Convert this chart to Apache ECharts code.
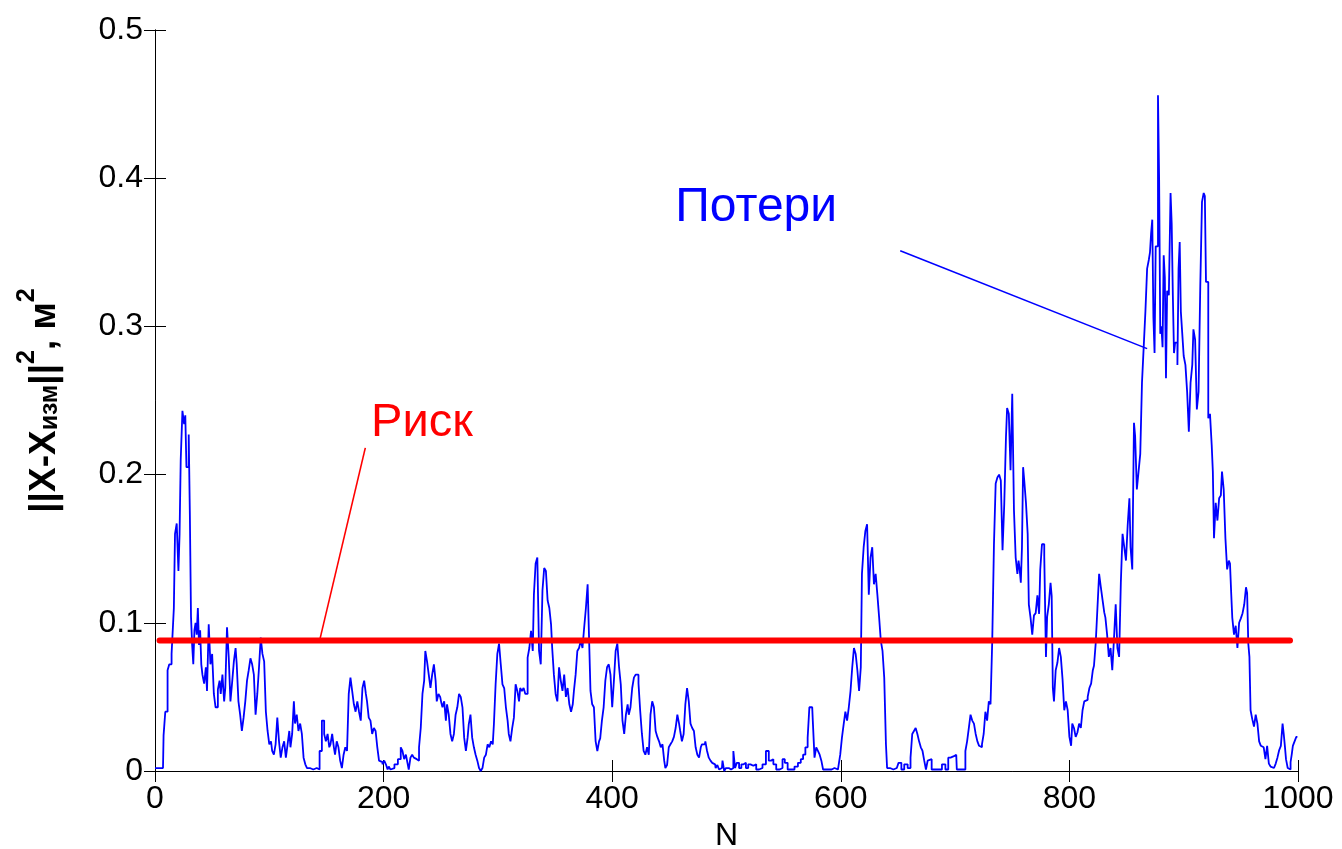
<!DOCTYPE html>
<html>
<head>
<meta charset="utf-8">
<script src="https://cdn.jsdelivr.net/npm/echarts@6/dist/echarts.min.js"></script>
<style>
html,body{margin:0;padding:0;background:#fff;overflow:hidden;}
#chart{width:1342px;height:849px;}
</style>
</head>
<body>
<div id="chart"></div>
<script>
// ---- axis ticks ----
const xTicks = [0, 200, 400, 600, 800, 1000];
const yTicks = [0, 0.1, 0.2, 0.3, 0.4, 0.5];

// ---- risk level (red line) ----
const riskLevel = 0.088;
const riskRange = [4, 993];

// ---- losses ||X - X_izm||^2 vs N ----
const lossSeg1 = [
[0,0.002],[3,0.002],[7,0.002],[8,0.024],[10,0.040],[12,0.068],[13,0.072],[16,0.079],[17,0.110],[18,0.160],
[20,0.167],[21,0.135],[22,0.160],[23,0.210],[25,0.243],[26,0.234],[27,0.240],[28,0.205],[29,0.205],[30,0.227],
[31,0.173],[32,0.104],[33,0.085],[34,0.072],[35,0.095],[36,0.100],[37,0.092],[38,0.110],[39,0.085],[40,0.095],
[41,0.072],[42,0.065],[44,0.059],[45,0.070],[46,0.054],[48,0.099],[49,0.072],[51,0.079],[52,0.052],[54,0.043],
[56,0.055],[57,0.061],[58,0.052],[60,0.065],[61,0.047],[62,0.056],[64,0.097],[65,0.077],[67,0.047],[68,0.060],
[70,0.074],[71,0.083],[72,0.072],[74,0.047],[75,0.038],[77,0.027],[78,0.036],[80,0.047],[81,0.061],[83,0.068],
[84,0.076],[86,0.072],[87,0.065],[89,0.038],[90,0.052],[92,0.070],[93,0.090],[95,0.079],[96,0.074],[98,0.040],
[99,0.027],[101,0.018],[102,0.020],[103,0.0135],[105,0.011],[106,0.018],[108,0.036],[109,0.020],[111,0.009],[112,0.016],
[114,0.020],[115,0.009],[117,0.018],[118,0.027],[119,0.016],[121,0.025],[122,0.047],[123,0.032],[125,0.038],[126,0.027],
[128,0.032],[129,0.025],[131,0.009],[132,0.0045],[134,0.002],[137,0.001],[140,0.002],[143,0.001],[145,0.0135],[147,0.034],
[149,0.025],[150,0.020],[152,0.025],[153,0.016],[154,0.018],[156,0.025],[157,0.016],[158,0.011],[160,0.020],[161,0.016],
[163,0.007],[164,0.002],[166,0.011],[167,0.016],[169,0.0135],[170,0.052],[172,0.063],[173,0.054],[175,0.045],[176,0.040],
[178,0.047],[179,0.040],[181,0.034],[182,0.056],[184,0.061],[185,0.052],[186,0.047],[188,0.036],[189,0.034],[191,0.025],
[192,0.029],[194,0.027],[195,0.016],[197,0.007],[198,0.006],[200,0.0045],[201,0.007],[203,0.0045],[204,0.001],[205,0.003],
[207,0.001],[208,0.002],[211,0.0045],[214,0.008],[216,0.016],[217,0.0135],[219,0.008],[220,0.011],[221,0.007],[223,0.001],
[224,0.009],[226,0.011],[227,0.009],[229,0.008],[230,0.007],[232,0.016],[233,0.029],[235,0.052],[236,0.061],[237,0.081],
[239,0.074],[240,0.065],[242,0.056],[243,0.065],[245,0.072],[246,0.061],[247,0.047],[249,0.052]
];
const lossSeg2 = [
[250,0.050],[251,0.046],[252,0.043],[254,0.047],[255,0.034],[256,0.045],[258,0.038],[259,0.025],[261,0.020],[262,0.025],
[264,0.038],[265,0.043],[267,0.052],[268,0.050],[270,0.043],[271,0.0225],[273,0.0135],[274,0.0225],[275,0.0315],[277,0.038],
[278,0.0225],[280,0.016],[281,0.011],[283,0.007],[284,0.002],[286,0.000],[287,0.002],[289,0.009],[290,0.011],[292,0.018],
[293,0.016],[295,0.020],[296,0.018],[297,0.0315],[299,0.0585],[300,0.079],[302,0.086],[303,0.072],[305,0.0585],[306,0.056],
[308,0.043],[309,0.034],[310,0.025],[312,0.020],[313,0.029],[315,0.036],[316,0.0585],[318,0.054],[319,0.047],[320,0.056],
[322,0.054],[323,0.056],[325,0.052],[327,0.0765],[328,0.083],[330,0.0945],[331,0.081],[332,0.119],[334,0.140],[335,0.144],
[337,0.081],[338,0.072],[340,0.122],[341,0.137],[343,0.135],[344,0.115],[346,0.110],[347,0.099],[348,0.083],[350,0.065],
[351,0.052],[353,0.047],[354,0.070],[356,0.061],[357,0.054],[359,0.065],[360,0.050],[362,0.056],[363,0.045],[365,0.040],
[366,0.045],[367,0.054],[369,0.065],[370,0.081],[372,0.083],[373,0.088],[375,0.083],[376,0.097],[378,0.110],[379,0.126],
[380,0.097],[382,0.054],[383,0.045],[385,0.043],[386,0.020],[388,0.0135],[389,0.020],[390,0.022],[392,0.034],[393,0.043],
[395,0.061],[396,0.070],[398,0.072],[399,0.065],[401,0.043],[402,0.061],[404,0.081],[405,0.086],[407,0.070],[408,0.0585],
[410,0.034],[411,0.025],[413,0.038],[414,0.045],[415,0.038],[417,0.043],[418,0.056],[420,0.063],[421,0.065],[422,0.065],
[424,0.059],[425,0.0405],[427,0.025],[428,0.0135],[430,0.011],[431,0.016],[433,0.011],[434,0.038],[436,0.047],[437,0.043],
[439,0.027],[440,0.023],[442,0.020],[443,0.016],[445,0.018],[446,0.007],[447,0.002],[449,0.004],[450,0.016],[452,0.018],
[453,0.020],[455,0.023],[456,0.029],[458,0.038],[459,0.032],[460,0.027],[462,0.020],[463,0.025],[465,0.045],[466,0.056],
[468,0.047],[469,0.032],[471,0.029],[472,0.027],[474,0.016],[475,0.011],[477,0.009],[478,0.016],[479,0.018],[481,0.018],
[482,0.020],[484,0.0135],[485,0.009],[487,0.007],[488,0.0055],[490,0.0045],[491,0.002],[493,0.004],[494,0.001],[496,0.002],
[497,0.007],[499,0.000]
];
const lossSeg3 = [
[500,0.002],[501,0.002],[503,0.001],[505,0.002],[507,0.0135],[508,0.002],[510,0.0055],[512,0.002],[514,0.0045],[516,0.0055],
[518,0.002],[520,0.0045],[522,0.0035],[525,0.0045],[527,0.001],[530,0.002],[533,0.0045],[536,0.0135],[538,0.007],[540,0.008],
[542,0.0045],[545,0.001],[548,0.002],[550,0.008],[552,0.0055],[555,0.001],[558,0.001],[561,0.003],[564,0.0055],[566,0.008],
[568,0.011],[570,0.016],[572,0.0225],[573,0.043],[575,0.043],[576,0.034],[578,0.009],[579,0.016],[581,0.0135],[582,0.011],
[584,0.007],[585,0.001],[588,0.001],[591,0.001],[593,0.002],[596,0.001],[599,0.001],[600,0.011],[602,0.0225],[603,0.0315],
[605,0.040],[606,0.034],[608,0.043],[609,0.054],[611,0.070],[612,0.083],[614,0.079],[615,0.068],[617,0.054],[618,0.070],
[619,0.133],[621,0.151],[622,0.162],[624,0.1665],[625,0.119],[627,0.144],[628,0.151],[630,0.126],[631,0.133],[633,0.119],
[634,0.104],[636,0.088],[637,0.081],[639,0.063],[640,0.018],[641,0.002],[643,0.002],[646,0.001],[649,0.002],[652,0.0055],
[654,0.001],[657,0.0045],[660,0.002],[662,0.009],[663,0.025],[665,0.027],[666,0.029],[668,0.025],[669,0.020],[671,0.016],
[672,0.0135],[674,0.007],[675,0.001],[677,0.007],[678,0.008],[681,0.001],[684,0.001],[687,0.001],[690,0.0045],[693,0.001],
[695,0.009],[697,0.008],[698,0.010],[700,0.011],[701,0.011],[702,0.001],[705,0.001],[708,0.001],[710,0.0135],[711,0.020],
[713,0.029],[714,0.038],[716,0.034],[717,0.032],[719,0.025],[720,0.020],[722,0.017],[723,0.016],[724,0.018],[726,0.025],
[727,0.040],[729,0.034],[730,0.047],[732,0.045],[733,0.088],[735,0.153],[736,0.194],[738,0.198],[739,0.200],[741,0.196],
[742,0.149],[744,0.180],[745,0.225],[746,0.245],[748,0.241],[749,0.203],[751,0.2545],[752,0.176],[754,0.144],[755,0.133]
];
const lossSeg4 = [
[756,0.142],[757,0.136],[758,0.127],[759,0.151],[760,0.205],[761,0.196],[763,0.181],[764,0.160],[765,0.1125],[767,0.1035],
[768,0.092],[770,0.105],[771,0.1065],[773,0.1185],[774,0.106],[775,0.136],[777,0.153],[779,0.145],[780,0.077],[781,0.104],
[783,0.1125],[784,0.127],[785,0.118],[786,0.056],[787,0.047],[789,0.068],[790,0.073],[792,0.083],[793,0.077],[795,0.062],
[796,0.041],[798,0.047],[799,0.041],[801,0.023],[802,0.017],[803,0.032],[805,0.029],[806,0.023],[808,0.026],[809,0.032],
[811,0.029],[812,0.041],[814,0.047],[815,0.048],[817,0.050],[818,0.056],[820,0.059],[821,0.068],[822,0.071],[824,0.086],
[825,0.1095],[827,0.133],[828,0.124],[830,0.1155],[831,0.107],[832,0.1035],[834,0.092],[835,0.077],[837,0.083],[838,0.068],
[840,0.089],[841,0.1125],[843,0.083],[844,0.077],[846,0.127],[847,0.160],[849,0.151],[850,0.142],[852,0.166],[853,0.184],
[854,0.151],[856,0.136],[857,0.235],[858,0.226],[860,0.190],[861,0.202],[863,0.214],[864,0.262],[866,0.286],[867,0.310],
[869,0.339],[870,0.345],[871,0.350],[872,0.363],[873,0.372],[874,0.306],[875,0.282],[876,0.354],[877,0.354],[878,0.456],
[879,0.399],[880,0.295],[881,0.300],[882,0.286],[883,0.348],[884,0.333],[885,0.265],[886,0.324],[888,0.321],[889,0.390],
[890,0.369],[891,0.321],[892,0.282],[893,0.289],[894,0.289],[895,0.274],[896,0.339],[897,0.357],[898,0.310],[899,0.298],
[901,0.280],[902,0.274],[904,0.256],[905,0.229],[907,0.262],[908,0.274],[909,0.298],[911,0.291],[912,0.244],[914,0.256],
[915,0.327],[917,0.384],[918,0.390],[919,0.388],[920,0.330],[921,0.330],[922,0.238],[924,0.241],[925,0.220],[926,0.202],
[927,0.157],[929,0.181],[930,0.169],[932,0.184],[933,0.186],[934,0.202],[936,0.190],[937,0.157],[939,0.136],[940,0.142],
[941,0.140],[942,0.121],[943,0.1035],[945,0.092],[946,0.098],[948,0.083],[949,0.100],[951,0.103],[952,0.1065],[954,0.1125],
[955,0.124],[956,0.120],[957,0.086],[958,0.077],[959,0.041],[961,0.035],[962,0.030],[964,0.038],[965,0.032],[967,0.020],
[968,0.017],[970,0.016],[971,0.017],[972,0.008],[974,0.017],[975,0.005],[977,0.003],[978,0.002],[980,0.003],[981,0.005],
[983,0.009],[984,0.014],[986,0.017],[987,0.032],[988,0.025],[989,0.017],[990,0.008],[992,0.002],[993,0.001],[994,0.006],
[995,0.011],[996,0.017],[998,0.020],[999,0.023],[1000,0.023]
];

// ---- annotation anchors (data coordinates) ----
const riskLabel = {text: 'Риск', at: [189, 0.219], lineFrom: [184, 0.218], lineTo: [144, riskLevel]};
const lossLabel = {text: 'Потери', at: [526, 0.364], lineFrom: [652, 0.351], lineTo: [868, 0.285]};

const FONT = '"Liberation Sans", Arial, sans-serif';
const lossData = lossSeg1.concat(lossSeg2, lossSeg3, lossSeg4);

const chart = echarts.init(document.getElementById('chart'), null, {renderer: 'canvas'});

const boxAxis = {
  axisLine: {show: true, lineStyle: {color: '#000', width: 1}},
  axisTick: {show: true, inside: true, length: 11, lineStyle: {color: '#000', width: 1}},
  splitLine: {show: false}
};
const plainNum = v => String(v);

chart.setOption({
  animation: false,
  backgroundColor: '#fff',
  grid: {left: 155, right: 44, top: 30, bottom: 78, show: false, containLabel: false, outerBoundsMode: 'none'},
  xAxis: [
    Object.assign({
      type: 'value', min: xTicks[0], max: xTicks[xTicks.length - 1], interval: 200,
      position: 'bottom',
      name: 'N', nameLocation: 'middle', nameGap: 44,
      nameTextStyle: {fontFamily: FONT, fontSize: 32, color: '#000', verticalAlign: 'top'},
      axisLabel: {fontFamily: FONT, fontSize: 32, color: '#000', margin: 12, formatter: plainNum}
    }, boxAxis),
    Object.assign({
      type: 'value', min: xTicks[0], max: xTicks[xTicks.length - 1], interval: 200,
      position: 'top', axisLabel: {show: false}
    }, boxAxis)
  ],
  yAxis: [
    Object.assign({
      type: 'value', min: yTicks[0], max: yTicks[yTicks.length - 1], interval: 0.1,
      position: 'left',
      name: '{b|||X-X}{sub|изм}{b|||}{sup|2}{b|, м}{sup|2}',
      nameLocation: 'middle', nameRotate: 90, nameGap: 92,
      nameTextStyle: {
        color: '#000',
        rich: {
          b: {fontFamily: FONT, fontSize: 37, fontWeight: 'bold', color: '#000', lineHeight: 48, verticalAlign: 'bottom'},
          sub: {fontFamily: FONT, fontSize: 25, fontWeight: 'bold', color: '#000', lineHeight: 48, verticalAlign: 'bottom'},
          sup: {fontFamily: FONT, fontSize: 25, fontWeight: 'bold', color: '#000', lineHeight: 48, verticalAlign: 'top'}
        }
      },
      axisLabel: {fontFamily: FONT, fontSize: 32, color: '#000', margin: 12, formatter: plainNum}
    }, boxAxis),
    Object.assign({
      type: 'value', min: yTicks[0], max: yTicks[yTicks.length - 1], interval: 0.1,
      position: 'right', axisLabel: {show: false}
    }, boxAxis)
  ],
  series: [
    {
      type: 'line', name: 'Потери', data: lossData, showSymbol: false, symbol: 'none', step: 'middle',
      lineStyle: {color: '#0000ff', width: 1.8}, z: 2
    },
    {
      type: 'line', name: 'Риск', data: [[riskRange[0], riskLevel], [riskRange[1], riskLevel]],
      showSymbol: false, symbol: 'none',
      lineStyle: {color: '#ff0000', width: 6, cap: 'round'}, z: 3
    }
  ]
});

function px(p) { return chart.convertToPixel({xAxisIndex: 0, yAxisIndex: 0}, p); }

const rFrom = px(riskLabel.lineFrom), rTo = px(riskLabel.lineTo), rAt = px(riskLabel.at);
const lFrom = px(lossLabel.lineFrom), lTo = px(lossLabel.lineTo), lAt = px(lossLabel.at);

chart.setOption({
  graphic: [
    {type: 'line', z: 10, shape: {x1: rFrom[0], y1: rFrom[1], x2: rTo[0], y2: rTo[1]},
     style: {stroke: '#ff0000', lineWidth: 1.6}},
    {type: 'text', z: 10, x: rAt[0], y: rAt[1],
     style: {text: riskLabel.text, fill: '#ff0000', font: '47px ' + FONT, textAlign: 'left', textVerticalAlign: 'bottom'}},
    {type: 'line', z: 10, shape: {x1: lFrom[0], y1: lFrom[1], x2: lTo[0], y2: lTo[1]},
     style: {stroke: '#0000ff', lineWidth: 1.6}},
    {type: 'text', z: 10, x: lAt[0], y: lAt[1],
     style: {text: lossLabel.text, fill: '#0000ff', font: '48px ' + FONT, textAlign: 'center', textVerticalAlign: 'bottom'}}
  ]
});
</script>
</body>
</html>
